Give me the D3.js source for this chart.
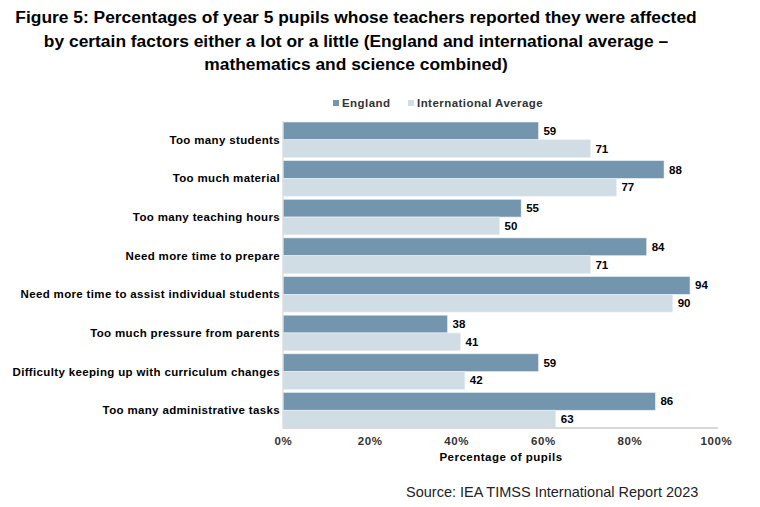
<!DOCTYPE html>
<html><head><meta charset="utf-8">
<script src="https://cdn.jsdelivr.net/npm/d3@7"></script>
<style>body{margin:0;background:#fff}svg{display:block}</style>
</head><body>
<svg id="c" width="760" height="507"></svg>
<script>
const categories = ["Too many students","Too much material","Too many teaching hours","Need more time to prepare","Need more time to assist individual students","Too much pressure from parents","Difficulty keeping up with curriculum changes","Too many administrative tasks"];
const england = [59,88,55,84,94,38,59,86];
const international = [71,77,50,71,90,41,42,63];
const seriesNames = ["England","International Average"];
const tickValues = [0,20,40,60,80,100];
const titleLines = ["Figure 5: Percentages of year 5 pupils whose teachers reported they were affected","by certain factors either a lot or a little (England and international average \u2013","mathematics and science combined)"];
const sourceText = "Source: IEA TIMSS International Report 2023";

(function(){
const colors = ["#7395ad","#d0dde5"];
const svg = d3.select("#c");
const pL = 283, pR = 716, pT = 122, pB = 428;
const x = d3.scaleLinear().domain([0,100]).range([pL,pR]);
const y = d3.scaleBand().domain(categories).range([pT,pB]).paddingInner(0.08).paddingOuter(0.0);
const sub = d3.scaleBand().domain(seriesNames).range([0,y.bandwidth()]);

const font = "'Liberation Sans', Arial, sans-serif";

svg.append("g").selectAll("text").data(titleLines).join("text")
  .attr("x",356).attr("y",(d,i)=>23+i*23.5).attr("text-anchor","middle")
  .style("font-family","'Liberation Sans Narrow','Arial Narrow',sans-serif").style("font-weight","bold").style("font-size","17.4px").attr("fill","#000")
  .text(d=>d);

// legend
const leg = svg.append("g");
const legX = [333,408];
seriesNames.forEach((s,i)=>{
  leg.append("rect").attr("x",legX[i]).attr("y",100).attr("width",6).attr("height",6).attr("fill",colors[i]);
  leg.append("text").attr("x",legX[i]+9).attr("y",107).text(s)
    .style("font-family",font).style("font-weight","bold").style("font-size","11.5px").style("letter-spacing","0.45px").attr("fill","#333");
});

const data = categories.map((c,i)=>({c, vals:[england[i],international[i]]}));
const g = svg.append("g");
data.forEach(d=>{
  d.vals.forEach((v,j)=>{
    const yy = y(d.c)+sub(seriesNames[j]);
    g.append("rect").attr("x",x(0)).attr("y",yy).attr("width",x(v)-x(0)).attr("height",sub.bandwidth())
      .attr("fill",colors[j]).attr("stroke","#e9eff3").attr("stroke-width",0.6);
    g.append("text").attr("x",x(v)+5).attr("y",yy+sub.bandwidth()/2+4).text(v)
      .style("font-family",font).style("font-weight","bold").style("font-size","11.5px").attr("fill","#000");
  });
});

// category labels
svg.append("g").selectAll("text").data(categories).join("text")
  .attr("x",pL-3).attr("y",d=>y(d)+y.bandwidth()/2+4).attr("text-anchor","end")
  .style("font-family",font).style("font-weight","bold").style("font-size","11.5px").style("letter-spacing","0.35px").attr("fill","#000")
  .text(d=>d);

// axes lines
svg.append("line").attr("x1",pL).attr("x2",pL).attr("y1",pT-1).attr("y2",pB).attr("stroke","#d9d9d9").attr("stroke-width",1.2);
svg.append("line").attr("x1",pL).attr("x2",pR+2).attr("y1",pB).attr("y2",pB).attr("stroke","#d9d9d9").attr("stroke-width",2);

const xa = d3.axisBottom(x).tickValues(tickValues).tickFormat(d=>d+"%").tickSize(0).tickPadding(9);
const ax = svg.append("g").attr("transform",`translate(0,${pB})`).call(xa);
ax.select(".domain").remove();
ax.selectAll("text").style("font-family",font).style("font-weight","bold").style("font-size","11.5px").style("letter-spacing","0.6px").attr("fill","#333");

svg.append("text").attr("x",501).attr("y",461).attr("text-anchor","middle").text("Percentage of pupils")
  .style("font-family",font).style("font-weight","bold").style("font-size","11.5px").style("letter-spacing","0.5px").attr("fill","#000");

svg.append("text").attr("x",406).attr("y",497).text(sourceText)
  .style("font-family",font).style("font-size","14.5px").attr("fill","#222");
})();
</script>
</body></html>
